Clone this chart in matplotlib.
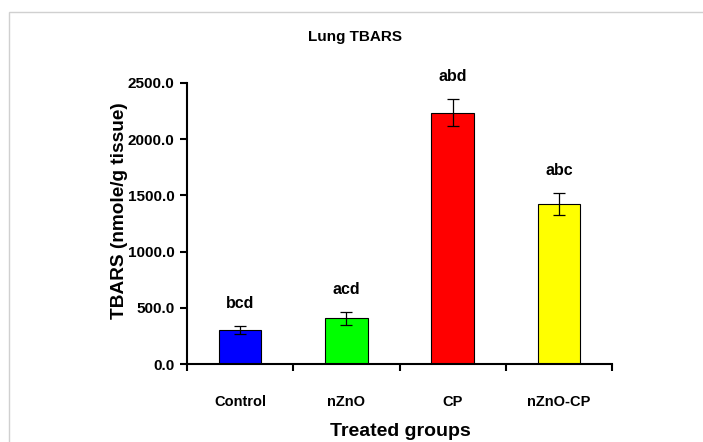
import numpy as np
import matplotlib
matplotlib.use("Agg")
import matplotlib.pyplot as plt
from matplotlib.patches import Rectangle

groups = ["Control", "nZnO", "CP", "nZnO-CP"]
means = [302, 406, 2236, 1423]
sds = [38, 55, 120, 100]
letters = ["bcd", "acd", "abd", "abc"]
colors = ["#0000ff", "#00ff00", "#ff0000", "#ffff00"]
yticks = [0, 500, 1000, 1500, 2000, 2500]

narrow = ["Liberation Sans Narrow", "Liberation Sans", "DejaVu Sans"]
wide = ["Liberation Sans", "DejaVu Sans"]

fig = plt.figure(figsize=(7.03, 4.42), dpi=100)
# light grey frame of the original picture (only left/top visible)
fig.patches.append(Rectangle((9/703, -0.1), 1.2, 1 - 12/442 + 0.1, transform=fig.transFigure,
                             fill=False, edgecolor="#d0d0d0", lw=1.0))

ax = fig.add_axes([187/703, 1 - 364/442, (612 - 187)/703, (364 - 83)/442])
x = np.arange(len(groups))
ax.bar(x, means, width=0.4, color=colors, edgecolor="black", linewidth=0.8, zorder=2)
ax.errorbar(x, means, yerr=sds, fmt="none", ecolor="black", elinewidth=0.9,
            capsize=4, capthick=0.9, zorder=3)

for xi, m, s, lab in zip(x, means, sds, letters):
    ax.text(xi, m + s + 200, lab, ha="center", va="center", fontsize=11.5,
            fontweight="bold", family=narrow, clip_on=False)

ax.set_xlim(-0.5, len(groups) - 0.5)
ax.set_ylim(0, 2500)
ax.set_yticks(yticks)
ax.set_yticklabels(["%.1f" % v for v in yticks], fontsize=11, fontweight="bold", family=narrow)
ax.set_xticks(np.arange(-0.5, len(groups)))
ax.set_xticklabels([])
ax.set_xticks(x, minor=True)
ax.set_xticklabels(groups, minor=True, fontsize=10.5, fontweight="bold", family=narrow)
ax.tick_params(axis="x", which="minor", length=0, pad=22)
ax.tick_params(axis="x", which="major", direction="out", length=5, width=1.5)
ax.tick_params(axis="y", direction="out", length=5, width=1.5, pad=4)
for sp in ["top", "right"]:
    ax.spines[sp].set_visible(False)
for sp in ["left", "bottom"]:
    ax.spines[sp].set_linewidth(1.5)

fig.text(355/703, 1 - 37/442, "Lung TBARS", ha="center", va="center", fontsize=11,
         fontweight="bold", family=narrow)
fig.text(400/703, 1 - 431/442, "Treated groups", ha="center", va="center", fontsize=14,
         fontweight="bold", family=narrow)
fig.text(120/703, 1 - 211/442, "TBARS (nmole/g tissue)", ha="center", va="center",
         rotation=90, fontsize=13.7, fontweight="bold", family=wide)

fig.savefig("out.png", dpi=100)
